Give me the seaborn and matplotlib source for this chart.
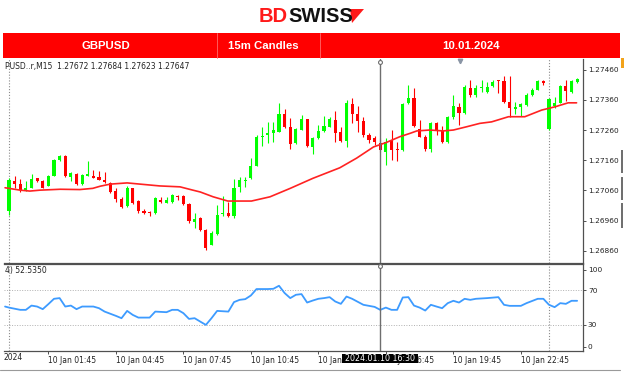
import numpy as np
import pandas as pd
import matplotlib
matplotlib.use("Agg")
import matplotlib.pyplot as plt
import seaborn as sns
from matplotlib.patches import Rectangle, Polygon
from matplotlib.lines import Line2D

# ---------------- data ----------------
opens = [1.26992, 1.27091, 1.27080, 1.27061, 1.27069, 1.27100, 1.27091, 1.27075, 1.27108, 1.27160,
         1.27175, 1.27105, 1.27116, 1.27081, 1.27108, 1.27108, 1.27105, 1.27096, 1.27085, 1.27058,
         1.27031, 1.27008, 1.27067, 1.27025, 1.26993, 1.26989, 1.26984, 1.27030, 1.27019, 1.27021,
         1.27042, 1.27041, 1.27015, 1.26956, 1.26968, 1.26929, 1.26881, 1.26915, 1.26981, 1.26986,
         1.26977, 1.27072, 1.27091, 1.27100, 1.27142, 1.27236, 1.27243, 1.27251, 1.27254, 1.27314,
         1.27271, 1.27216, 1.27261, 1.27295, 1.27204, 1.27232, 1.27257, 1.27271, 1.27293, 1.27254,
         1.27223, 1.27346, 1.27312, 1.27289, 1.27243, 1.27232, 1.27218, 1.27188, 1.27225, 1.27198,
         1.27195, 1.27348, 1.27365, 1.27265, 1.27238, 1.27196, 1.27282, 1.27257, 1.27221, 1.27302,
         1.27337, 1.27317, 1.27398, 1.27376, 1.27398, 1.27387, 1.27405, 1.27425, 1.27423, 1.27353,
         1.27328, 1.27335, 1.27342, 1.27376, 1.27394, 1.27422, 1.27262, 1.27339, 1.27350, 1.27405,
         1.27387, 1.27420]
highs = [1.27101, 1.27107, 1.27098, 1.27091, 1.27116, 1.27102, 1.27093, 1.27111, 1.27164, 1.27179,
         1.27177, 1.27122, 1.27119, 1.27116, 1.27157, 1.27127, 1.27124, 1.27122, 1.27089, 1.27067,
         1.27038, 1.27074, 1.27068, 1.27028, 1.27000, 1.26993, 1.27037, 1.27037, 1.27039, 1.27048,
         1.27045, 1.27045, 1.27018, 1.26985, 1.26972, 1.26934, 1.26925, 1.27011, 1.27041, 1.27021,
         1.27099, 1.27105, 1.27105, 1.27166, 1.27243, 1.27271, 1.27287, 1.27287, 1.27348, 1.27329,
         1.27299, 1.27266, 1.27309, 1.27297, 1.27238, 1.27277, 1.27306, 1.27303, 1.27324, 1.27270,
         1.27359, 1.27366, 1.27339, 1.27303, 1.27250, 1.27240, 1.27232, 1.27233, 1.27260, 1.27222,
         1.27349, 1.27410, 1.27398, 1.27293, 1.27243, 1.27287, 1.27287, 1.27273, 1.27306, 1.27376,
         1.27348, 1.27409, 1.27425, 1.27409, 1.27424, 1.27420, 1.27425, 1.27425, 1.27438, 1.27440,
         1.27353, 1.27350, 1.27381, 1.27398, 1.27425, 1.27425, 1.27365, 1.27368, 1.27409, 1.27425,
         1.27425, 1.27431]
lows = [1.26978, 1.27069, 1.27055, 1.27059, 1.27067, 1.27089, 1.27067, 1.27074, 1.27107, 1.27159,
        1.27104, 1.27091, 1.27079, 1.27078, 1.27107, 1.27101, 1.27094, 1.27084, 1.27053, 1.27021,
        1.27003, 1.27006, 1.27015, 1.26986, 1.26982, 1.26975, 1.26982, 1.27017, 1.27017, 1.27019,
        1.27028, 1.27011, 1.26951, 1.26935, 1.26925, 1.26863, 1.26879, 1.26912, 1.26975, 1.26972,
        1.26968, 1.27055, 1.27072, 1.27098, 1.27141, 1.27207, 1.27216, 1.27221, 1.27252, 1.27266,
        1.27197, 1.27215, 1.27260, 1.27203, 1.27181, 1.27230, 1.27253, 1.27269, 1.27221, 1.27221,
        1.27204, 1.27282, 1.27255, 1.27237, 1.27217, 1.27210, 1.27187, 1.27144, 1.27162, 1.27157,
        1.27192, 1.27346, 1.27271, 1.27236, 1.27191, 1.27188, 1.27243, 1.27218, 1.27218, 1.27298,
        1.27276, 1.27313, 1.27370, 1.27370, 1.27386, 1.27381, 1.27403, 1.27382, 1.27350, 1.27304,
        1.27313, 1.27306, 1.27339, 1.27372, 1.27392, 1.27409, 1.27260, 1.27332, 1.27348, 1.27357,
        1.27383, 1.27416]
closes = [1.27094, 1.27080, 1.27061, 1.27068, 1.27098, 1.27091, 1.27069, 1.27107, 1.27160, 1.27174,
          1.27107, 1.27119, 1.27083, 1.27111, 1.27113, 1.27102, 1.27096, 1.27088, 1.27056, 1.27031,
          1.27006, 1.27067, 1.27018, 1.26993, 1.26986, 1.26984, 1.27034, 1.27021, 1.27028, 1.27045,
          1.27037, 1.27015, 1.26959, 1.26967, 1.26929, 1.26869, 1.26918, 1.26978, 1.26986, 1.26977,
          1.27069, 1.27093, 1.27096, 1.27142, 1.27238, 1.27241, 1.27249, 1.27260, 1.27314, 1.27271,
          1.27213, 1.27262, 1.27295, 1.27207, 1.27232, 1.27257, 1.27273, 1.27295, 1.27250, 1.27223,
          1.27348, 1.27313, 1.27289, 1.27243, 1.27228, 1.27220, 1.27195, 1.27222, 1.27194, 1.27194,
          1.27346, 1.27365, 1.27273, 1.27238, 1.27196, 1.27282, 1.27257, 1.27221, 1.27302, 1.27339,
          1.27317, 1.27401, 1.27376, 1.27398, 1.27404, 1.27403, 1.27420, 1.27423, 1.27353, 1.27332,
          1.27337, 1.27346, 1.27376, 1.27394, 1.27423, 1.27416, 1.27361, 1.27350, 1.27405, 1.27390,
          1.27423, 1.27428]

ma_pos = [-0.7, 2, 3.7, 5.5, 9.1, 12.6, 14.9, 16.2, 18, 21, 23.3, 26.8, 30.4, 32.7, 34, 36.3, 38.9,
          43.1, 46.4, 50, 54, 58.8, 61.8, 64.8, 67.1, 69.5, 71.3, 72.5, 74.8, 77.2, 79, 81.4, 83.7,
          85.8, 88.8, 91.7, 94.7, 97.1, 99.4, 100.9]
ma_val = [1.27069, 1.27061, 1.27058, 1.27061, 1.27064, 1.27063, 1.27067, 1.27074, 1.27081, 1.27085,
          1.27081, 1.27075, 1.27072, 1.27061, 1.27055, 1.27039, 1.27025, 1.27025, 1.27039, 1.27067,
          1.27100, 1.27135, 1.27167, 1.27204, 1.27219, 1.27238, 1.27249, 1.27257, 1.27260, 1.27257,
          1.27260, 1.27271, 1.27282, 1.27287, 1.27304, 1.27304, 1.27326, 1.27337, 1.27350, 1.27350]

rsi_pos = [-0.7, 0, 2, 3, 4, 5, 6, 7, 8, 9, 10, 11, 12, 13, 15, 16, 17, 19, 20, 21, 22, 23, 25, 26,
           28, 29, 30, 31, 32, 33, 34, 35, 36, 37, 39, 40, 41, 42, 43, 44, 46, 47, 48, 49, 50, 51,
           52, 53, 54, 55, 56, 57, 58, 59, 60, 61, 63, 65, 66, 67, 68, 69, 70, 71, 72, 73, 74, 75,
           76, 77, 78, 79, 80, 81, 82, 83, 85, 87, 88, 89, 91, 92, 94, 95, 96, 97, 98, 99, 100, 101]
rsi_val = [51.1, 49.9, 47.3, 47.3, 52.2, 51.1, 48.1, 53.9, 60.0, 60.8, 51.1, 52.2, 48.1, 51.1, 51.1,
           49.2, 45.3, 40.4, 37.7, 46.1, 41.5, 38.4, 38.4, 45.3, 44.6, 47.3, 47.3, 43.5, 36.9, 37.7,
           33.8, 30.0, 37.7, 46.1, 45.3, 56.2, 58.8, 59.6, 63.8, 71.2, 71.2, 71.5, 75.0, 66.6, 60.8,
           64.6, 65.4, 55.7, 58.0, 60.0, 60.8, 61.9, 56.9, 54.2, 62.6, 60.0, 53.1, 50.7, 47.3, 49.9,
           47.3, 47.3, 61.5, 61.9, 52.2, 49.9, 46.5, 53.1, 51.1, 49.2, 55.0, 57.7, 55.7, 60.0, 58.8,
           60.0, 60.8, 61.9, 53.1, 51.9, 51.9, 55.0, 60.0, 60.0, 53.1, 50.4, 55.0, 54.2, 57.7, 57.7]

price_ticks = [1.26860, 1.26960, 1.27060, 1.27160, 1.27260, 1.27360, 1.27460]
rsi_tick_labels = ["0", "30", "70", "100"]
rsi_levels = [30, 70]
time_tick_idx = [7, 19, 31, 43, 55, 67, 79, 91]
time_labels = ["10 Jan 01:45", "10 Jan 04:45", "10 Jan 07:45", "10 Jan 10:45",
               "10 Jan 13:45", "10 Jan 16:45", "10 Jan 19:45", "10 Jan 22:45"]
day_separators = [0, 96]
cursor_idx = 66
header_cells = ["GBPUSD", "15m Candles", "10.01.2024"]
chart_header = "PUSD..r,M15  1.27672 1.27684 1.27623 1.27647"
rsi_header = "4) 52.5350"
cursor_label = "2024.01.10 16:30"

# ---------------- figure ----------------
sns.set_theme(style="white")
plt.rcParams["font.family"] = ["DejaVu Sans"]

W, H = 624, 375
fig = plt.figure(figsize=(W / 100, H / 100), dpi=100)
fig.patch.set_facecolor("white")

def fx(px):
    return px / W

def fy(py):
    return 1 - py / H

# axes geometry (pixels)
L, R = 4, 583
MT, MB = 59, 263
RT, RB = 264, 351
ax = fig.add_axes([fx(L), fy(MB), fx(R - L), (MB - MT) / H])
axr = fig.add_axes([fx(L), fy(RB), fx(R - L), (RB - RT) / H], sharex=ax)
for a in (ax, axr):
    a.set_facecolor("white")

df = pd.DataFrame({"i": np.arange(len(opens)), "open": opens, "high": highs,
                   "low": lows, "close": closes})
df["up"] = df["close"] >= df["open"]
GREEN, RED = "#00ff00", "#ff0000"
for up, col in ((True, GREEN), (False, RED)):
    sub = df[df["up"] == up]
    ax.vlines(sub["i"], sub["low"], sub["high"], color=col, lw=0.8, zorder=2)
    body = (sub["close"] - sub["open"]).abs().clip(lower=0.00004)
    bottom = np.minimum(sub["open"], sub["close"])
    ax.bar(sub["i"], body, bottom=bottom, width=0.56, color=col, linewidth=0, zorder=3)

sns.lineplot(x=ma_pos, y=ma_val, ax=ax, color="#ff2222", lw=1.2, estimator=None,
             sort=False, zorder=4)
sns.lineplot(x=rsi_pos, y=rsi_val, ax=axr, color="#3d9bff", lw=1.3, estimator=None,
             sort=False, zorder=4)

ax.set_xlim((4 - 9) / 5.625, (583 - 9) / 5.625)
ax.set_ylim(1.26820, 1.27495)
axr.set_ylim(0, 100)

# separators and cursor
for a in (ax, axr):
    for s in day_separators:
        a.axvline(s, color="#8a8a8a", lw=0.8, ls=(0, (1, 1.6)), zorder=1)
    a.axvline(cursor_idx, color="#6e6e6e", lw=1.0, zorder=5)
for lv in rsi_levels:
    axr.axhline(lv, color="#b0b0b0", lw=0.7, ls=(0, (1, 1.6)), zorder=1)

ax.plot([cursor_idx], [1.27485], marker="o", ms=2.8, mfc="white", mec="#6e6e6e", mew=0.8,
        zorder=6, clip_on=False)
axr.plot([cursor_idx], [98], marker="o", ms=2.8, mfc="white", mec="#6e6e6e", mew=0.8,
         zorder=6, clip_on=False)
ax.plot([80.2], [1.27488], marker="v", ms=3.2, color="#8a95a5", zorder=6, clip_on=False)

# axes styling
for a in (ax, axr):
    a.grid(False)
    for sp in a.spines.values():
        sp.set_color("#505050")
        sp.set_linewidth(0.9)
    a.spines["left"].set_visible(False)
    a.set_xlabel("")
    a.set_ylabel("")
ax.spines["top"].set_visible(False)

ax.yaxis.tick_right()
ax.set_yticks(price_ticks)
ax.set_yticklabels([f"{v:.5f}" for v in price_ticks])
ax.tick_params(axis="y", which="both", right=True, left=False, length=2, width=0.7,
               color="#505050", pad=1.5, labelsize=5.3, labelcolor="#222222")
ax.tick_params(axis="x", bottom=False, labelbottom=False)

axr.yaxis.tick_right()
axr.set_yticks([5, 30, 70, 93.5])
axr.set_yticklabels(rsi_tick_labels)
axr.tick_params(axis="y", right=True, left=False, length=2, width=0.7, color="#505050",
                pad=1.5, labelsize=5.3, labelcolor="#222222")
axr.set_xticks(time_tick_idx)
axr.set_xticklabels(time_labels, ha="left")
axr.tick_params(axis="x", bottom=True, length=2.5, width=0.7, color="#505050", pad=1.2,
                labelsize=5.5, labelcolor="#222222")

# in-chart texts
fig.text(fx(5), fy(66), chart_header, fontsize=5.5, color="#222222", va="center", ha="left")
fig.text(fx(5), fy(271), rsi_header, fontsize=5.5, color="#222222", va="center", ha="left")
fig.text(fx(4), fy(358), "2024", fontsize=5.5, color="#222222", va="center", ha="left")

# cursor time label box
fig.patches.append(Rectangle((fx(342), fy(362.5)), fx(76), 8.5 / H, transform=fig.transFigure,
                             facecolor="black", edgecolor="none", zorder=10))
fig.text(fx(380), fy(358.2), cursor_label, fontsize=5.7, color="white", va="center",
         ha="center", zorder=11)

# bottom frame line
fig.lines.append(Line2D([fx(0), fx(620)], [fy(370), fy(370)], transform=fig.transFigure,
                        color="#9a9a9a", lw=0.8))

# right-edge artifacts
fig.patches.append(Rectangle((fx(621), fy(68)), fx(3), 10 / H, transform=fig.transFigure,
                             facecolor="#f2a31b", edgecolor="none"))
for y0, y1 in ((150, 173), (177, 200), (203, 228)):
    fig.patches.append(Rectangle((fx(621), fy(y1)), fx(2), (y1 - y0) / H,
                                 transform=fig.transFigure, facecolor="#707070",
                                 edgecolor="none"))

# banner
fig.patches.append(Rectangle((fx(3), fy(58)), fx(617), 25 / H, transform=fig.transFigure,
                             facecolor="#ff0000", edgecolor="none", zorder=1))
for xd in (217, 320):
    fig.lines.append(Line2D([fx(xd), fx(xd)], [fy(58), fy(33)], transform=fig.transFigure,
                            color="#ff6a6a", lw=0.6, zorder=2))
for cx, txt in zip((106, 263, 471), header_cells):
    fig.text(fx(cx), fy(46), txt, fontsize=8.2, fontweight="bold", color="white",
             ha="center", va="center", family=["Liberation Sans", "DejaVu Sans"], zorder=3)

# logo
fig.text(fx(288), fy(16), "BD", fontsize=14.5, fontweight="bold", color="#ff1a1a",
         ha="right", va="center", family=["Liberation Sans", "DejaVu Sans"])
fig.text(fx(288), fy(16), "SWISS", fontsize=14.5, fontweight="bold", color="#111111",
         ha="left", va="center", family=["Liberation Sans", "DejaVu Sans"])
fig.patches.append(Polygon([(fx(350), fy(9)), (fx(364), fy(9)), (fx(352), fy(23))],
                           closed=True, transform=fig.transFigure, facecolor="#ff1a1a",
                           edgecolor="none"))

fig.savefig("out.png", dpi=100, facecolor="white")
